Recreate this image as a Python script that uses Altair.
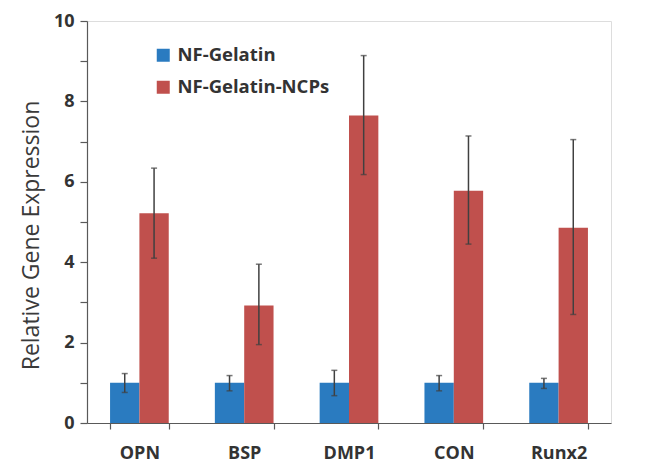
import altair as alt
import pandas as pd

genes = ["OPN", "BSP", "DMP1", "CON", "Runx2"]
series = ["NF-Gelatin", "NF-Gelatin-NCPs"]
gelatin = [1.0, 1.0, 1.0, 1.0, 1.0]
gelatin_lo = [0.76, 0.80, 0.68, 0.80, 0.86]
gelatin_hi = [1.23, 1.18, 1.31, 1.18, 1.11]
ncps = [5.22, 2.92, 7.65, 5.78, 4.86]
ncps_lo = [4.10, 1.95, 6.18, 4.45, 2.70]
ncps_hi = [6.34, 3.95, 9.14, 7.14, 7.05]
colors = ["#2a7bc0", "#c0504d"]

rows = []
for i, g in enumerate(genes):
    rows.append({"gene": g, "series": series[0], "value": gelatin[i], "lo": gelatin_lo[i], "hi": gelatin_hi[i]})
    rows.append({"gene": g, "series": series[1], "value": ncps[i], "lo": ncps_lo[i], "hi": ncps_hi[i]})
df = pd.DataFrame(rows)

FONT = "Open Sans"
x = alt.X("gene:N", sort=genes, title=None,
          scale=alt.Scale(paddingInner=0.44, paddingOuter=0.22),
          axis=alt.Axis(labelAngle=0, labelFont=FONT, labelFontSize=18, labelFontWeight="bold",
                        labelColor="#333333", labelPadding=15, tickBand="extent", tickSize=6,
                        tickColor="#595959", domainColor="#595959", domainWidth=1.2, tickWidth=1.2))
xo = alt.XOffset("series:N", sort=series, scale=alt.Scale(paddingInner=0, paddingOuter=0))

bars = alt.Chart(df).mark_bar().encode(
    x=x, xOffset=xo,
    y=alt.Y("value:Q", scale=alt.Scale(domain=[0, 10], nice=False),
            title="Relative Gene Expression",
            axis=alt.Axis(values=list(range(0, 11)), labelExpr="datum.value % 2 == 0 ? datum.label : ''",
                          grid=False, tickSize=7, tickColor="#595959", domainColor="#595959",
                          domainWidth=1.2, tickWidth=1.2, labelFont=FONT, labelFontSize=18,
                          labelFontWeight="bold", labelColor="#333333", labelPadding=6,
                          titleFont=FONT, titleFontSize=23, titleFontWeight=500,
                          titleColor="#3a3a3a", titlePadding=10, titleY=214)),
    color=alt.Color("series:N", sort=series, scale=alt.Scale(domain=series, range=colors),
                    legend=alt.Legend(title=None, orient="none", legendX=67, legendY=25,
                                      symbolType="square", symbolSize=169, symbolStrokeWidth=0,
                                      labelFont=FONT, labelFontSize=18.5, labelFontWeight="bold",
                                      labelColor="#333333", rowPadding=13, labelOffset=5)),
)

err = alt.Chart(df).mark_rule(color="#404040", strokeWidth=1.5).encode(
    x=alt.X("gene:N", sort=genes), xOffset=xo, y="lo:Q", y2="hi:Q")
cap_lo = alt.Chart(df).mark_tick(color="#404040", thickness=1.5, size=6).encode(
    x=alt.X("gene:N", sort=genes), xOffset=xo, y="lo:Q")
cap_hi = alt.Chart(df).mark_tick(color="#404040", thickness=1.5, size=6).encode(
    x=alt.X("gene:N", sort=genes), xOffset=xo, y="hi:Q")

chart = (bars + err + cap_lo + cap_hi).properties(
    width=524, height=402,
    autosize=alt.AutoSizeParams(type="none"),
    padding={"left": 79, "top": 13, "right": 20, "bottom": 41},
).configure_view(stroke=None).configure(background="white")

chart.save("out.html", embed_options={"renderer": "svg", "actions": False})
